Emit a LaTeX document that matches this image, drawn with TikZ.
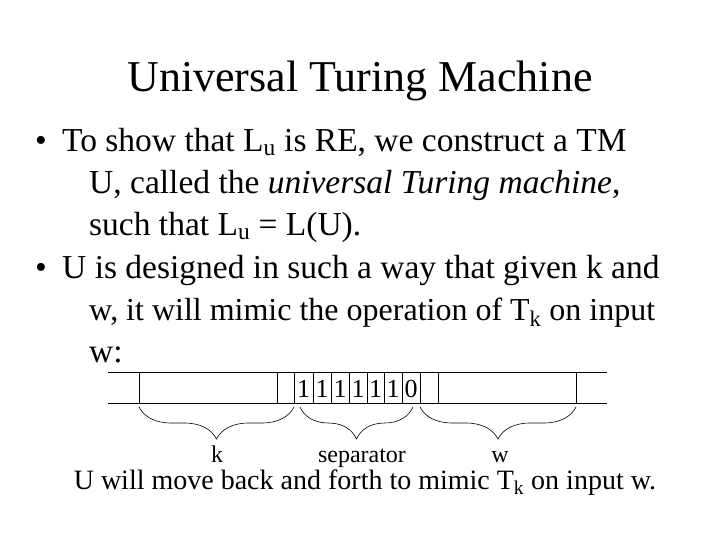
\documentclass[tikz,border=0pt]{standalone}
\usepackage{fontspec}
\setmainfont{Liberation Serif}
\usetikzlibrary{decorations.pathreplacing}
\begin{document}
\begin{tikzpicture}[x=1pt,y=-1pt,
  txt/.style={anchor=base west,inner sep=0pt,font=\fontsize{33.5}{36}\selectfont},
  br/.style={decorate,decoration={brace,mirror,amplitude=32pt,raise=0pt},line width=0.6pt},
  lab/.style={anchor=base,inner sep=0pt,font=\fontsize{24}{28}\selectfont}]
\useasboundingbox (0,0) rectangle (720,540);
\node[anchor=base,inner sep=0pt,font=\fontsize{44}{48}\selectfont] (title) at (360,92) {Universal Turing Machine};
\node[txt] (b1) at (35,152) {•};
\node[txt] (l1) at (62,152) {To show that L\textsubscript{u} is RE, we construct a TM};
\node[txt] (l2) at (89,194) {U, called the \textit{universal Turing machine},};
\node[txt] (l3) at (89,236) {such that L\textsubscript{u} = L(U).};
\node[txt] (b2) at (35,278) {•};
\node[txt] (l4) at (62,278) {U is designed in such a way that given k and};
\node[txt,font=\fontsize{32}{36}\selectfont] (l5) at (89,320) {w, it will mimic the operation of T\textsubscript{k} on input};
\node[txt] (l6) at (89,362) {w:};
\draw[line width=0.6pt] (108,372) -- (607,372) (108,403) -- (607,403);
\foreach \x in {139,277,294,313,331,349,367,384,402,420,438,576}
  \draw[line width=0.6pt] (\x,372) -- (\x,403);
\foreach \a/\b/\c in {294/313/1,313/331/1,331/349/1,349/367/1,367/384/1,384/402/1,402/420/0}
  \node[anchor=base,inner sep=0pt,font=\fontsize{26}{28}\selectfont] at ({(\a+\b)/2},397) {\c};
\coordinate (k1) at (139,407); \coordinate (k2) at (294,407);
\coordinate (s1) at (300,407); \coordinate (s2) at (413,407);
\coordinate (w1) at (420,407); \coordinate (w2) at (576,407);
\draw[br] (k1) -- (k2);
\draw[br] (s1) -- (s2);
\draw[br] (w1) -- (w2);
\node[lab] (k) at (217,462) {k};
\node[lab] (sep) at (362,462) {separator};
\node[lab] (w) at (500,462) {w};
\node[anchor=base,inner sep=0pt,font=\fontsize{28}{30}\selectfont] (bot) at (365,489) {U will move back and forth to mimic T\textsubscript{k} on input w.};
\end{tikzpicture}
\end{document}
